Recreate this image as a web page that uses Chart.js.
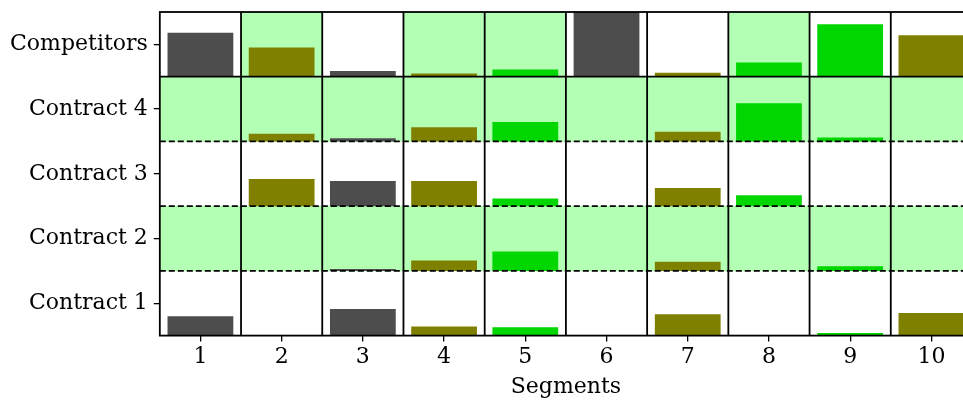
<!DOCTYPE html>
<html>
<head>
<meta charset="utf-8">
<script src="https://cdn.jsdelivr.net/npm/chart.js@4"></script>
<style>
  html, body { margin: 0; padding: 0; overflow: hidden; background: #fff; }
  #wrap { width: 980px; height: 400px; }
</style>
</head>
<body>
<div id="wrap"><canvas id="grid" width="980" height="400"></canvas></div>
<script>
// segments along the x axis, rows from bottom to top
const segments = ['1', '2', '3', '4', '5', '6', '7', '8', '9', '10'];
const rowNames = ['Contract 1', 'Contract 2', 'Contract 3', 'Contract 4', 'Competitors'];

// bar colour group of each segment
const segmentGroup = ['gray', 'olive', 'gray', 'olive', 'green', 'gray', 'olive', 'green', 'green', 'olive'];

// share of each row per segment (0..1)
const contract1 = [0.30, 0, 0.41, 0.14, 0.13, 0, 0.33, 0, 0.04, 0.35];
const contract2 = [0, 0, 0.03, 0.16, 0.30, 0, 0.14, 0, 0.07, 0];
const contract3 = [0, 0.42, 0.39, 0.39, 0.12, 0, 0.28, 0.17, 0, 0];
const contract4 = [0, 0.12, 0.05, 0.22, 0.30, 0, 0.15, 0.59, 0.06, 0];
const competitors = [0.68, 0.45, 0.09, 0.05, 0.11, 1.0, 0.06, 0.22, 0.81, 0.64];

// highlighted cells (1 = pale green background)
const contract1Hl = [0, 0, 0, 0, 0, 0, 0, 0, 0, 0];
const contract2Hl = [1, 1, 1, 1, 1, 1, 1, 1, 1, 1];
const contract3Hl = [0, 0, 0, 0, 0, 0, 0, 0, 0, 0];
const contract4Hl = [1, 1, 1, 1, 1, 1, 1, 1, 1, 1];
const competitorsHl = [0, 1, 0, 1, 1, 0, 0, 1, 0, 0];

const rowValues = [contract1, contract2, contract3, contract4, competitors];
const rowHl = [contract1Hl, contract2Hl, contract3Hl, contract4Hl, competitorsHl];

const groupColor = { gray: '#4d4d4d', olive: '#808000', green: '#00d600' };
const barColors = segmentGroup.map(g => groupColor[g]);

var datasets = [];
rowValues.forEach(function (vals, r) {
    datasets.push({
        label: rowNames[r],
        data: vals.map(v => v > 0 ? [r, r + v] : null),
        backgroundColor: barColors,
        barPercentage: 0.81,
        categoryPercentage: 1.0,
        grouped: false,
        order: 1
    });
});
rowHl.forEach(function (flags, r) {
    datasets.push({
        label: rowNames[r] + ' bg',
        data: flags.map(f => f ? [r, r + 1] : null),
        backgroundColor: '#b3ffb3',
        barPercentage: 1.0,
        categoryPercentage: 1.0,
        grouped: false,
        order: 5
    });
});

// cell borders: solid verticals, dashed row separators, frame
const cellLines = {
    id: 'cellLines',
    afterDatasetsDraw(chart) {
        const ctx = chart.ctx;
        const area = chart.chartArea;
        const x = chart.scales.x;
        const y = chart.scales.y;
        ctx.save();
        ctx.strokeStyle = '#000';
        ctx.lineWidth = 1.8;
        for (let i = 0; i < segments.length - 1; i++) {
            const px = (x.getPixelForValue(i) + x.getPixelForValue(i + 1)) / 2;
            ctx.beginPath();
            ctx.moveTo(px, area.top);
            ctx.lineTo(px, area.bottom);
            ctx.stroke();
        }
        for (let r = 1; r < rowNames.length; r++) {
            const py = y.getPixelForValue(r);
            ctx.setLineDash(r === rowNames.length - 1 ? [] : [6, 3]);
            ctx.beginPath();
            ctx.moveTo(area.left, py);
            ctx.lineTo(area.right, py);
            ctx.stroke();
        }
        ctx.setLineDash([]);
        ctx.strokeRect(area.left, area.top, area.right - area.left, area.bottom - area.top);
        ctx.restore();
    }
};

Chart.defaults.font.family = '"DejaVu Serif", serif';
Chart.defaults.font.size = 22;
Chart.defaults.color = '#000';

var ctx = document.getElementById('grid').getContext('2d');
var chart = new Chart(ctx, {
    type: 'bar',
    data: { labels: segments, datasets: datasets },
    options: {
        responsive: false,
        animation: false,
        layout: { padding: { left: 4, right: 8, top: 12, bottom: 0 } },
        plugins: { legend: { display: false }, tooltip: { enabled: false } },
        scales: {
            x: {
                grid: { offset: false, drawOnChartArea: false, color: '#000', lineWidth: 1.3, tickLength: 6 },
                border: { display: false },
                ticks: { padding: 5, maxRotation: 0, font: { lineHeight: 1.0 } },
                title: { display: true, text: 'Segments', padding: { top: 0, bottom: 0 } }
            },
            y: {
                min: 0,
                max: rowNames.length,
                afterBuildTicks: function (scale) {
                    scale.ticks = rowNames.map((n, i) => ({ value: i + 0.5 }));
                },
                afterFit: function (scale) {
                    // labels sit mid-row, so no overflow room is needed
                    scale.paddingTop = 0;
                    scale.paddingBottom = 0;
                },
                grid: { drawOnChartArea: false, color: '#000', lineWidth: 1.3, tickLength: 6 },
                border: { display: false },
                ticks: {
                    padding: 6,
                    callback: function (value) { return rowNames[Math.floor(value)]; }
                }
            }
        }
    },
    plugins: [cellLines]
});
</script>
</body>
</html>
